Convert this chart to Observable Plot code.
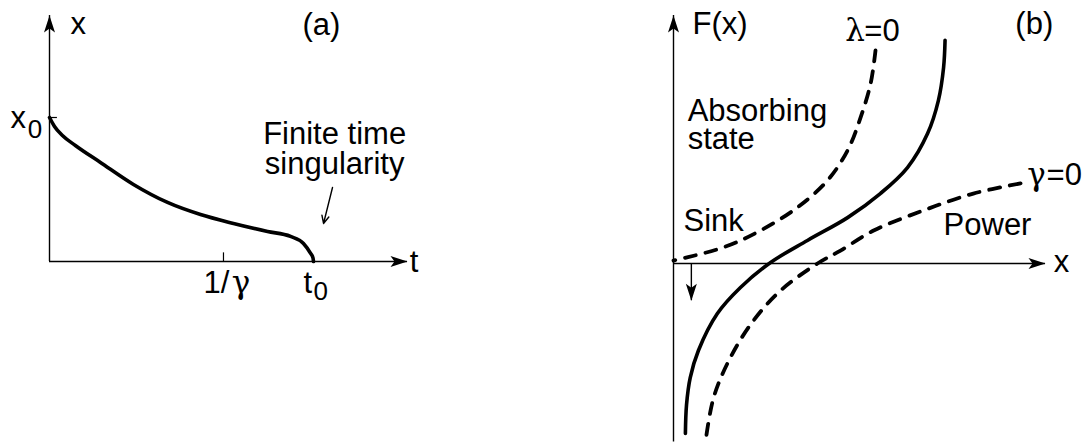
<!DOCTYPE html>
<html>
<head>
<meta charset="utf-8">
<script src="https://cdn.jsdelivr.net/npm/d3@7"></script>
<script src="https://cdn.jsdelivr.net/npm/@observablehq/plot@0.6"></script>
<style>
  html, body { margin: 0; padding: 0; background: #fff; }
  #wrap { position: relative; width: 1090px; height: 445px; overflow: hidden; }
  #wrap > svg { position: absolute; top: 0; }
</style>
</head>
<body>
<div id="wrap"></div>
<script>
// ---------- Panel (a): x(t) ----------
const curveA_t = [0, 0.019, 0.049, 0.098, 0.193, 0.318, 0.447, 0.572, 0.697, 0.826, 0.913, 0.962, 0.989, 0.998, 1];
const curveA_x = [1, 0.9375, 0.875, 0.806, 0.688, 0.535, 0.41, 0.326, 0.264, 0.208, 0.174, 0.125, 0.056, 0.025, 0];
const axisA_tMax = 1.356;   // end of t axis
const axisA_xMax = 1.708;   // end of x axis
const tickA_t = [0.659];    // 1/gamma
const labelsA = ["x", "(a)", "x", "0", "Finite time\nsingularity", "1/", "γ", "t", "0", "t"];
const labelsA_t = [0.08, 0.958, -0.148, -0.082, 1.08, 0.583, 0.69, 0.962, 1.0, 1.365];
const labelsA_x = [1.58, 1.57, 0.93, 0.86, 0.61, -0.222, -0.222, -0.222, -0.27, -0.076];
const labelsA_kind = ["m", "m", "m", "s", "c", "m", "g", "m", "s", "m"]; // main / sub / centred / greek
const pointerA = {t1: 1.072, x1: 0.514, t2: 1.038, x2: 0.264};

// ---------- Panel (b): F(x) ----------
const solidB_x = [0.73, 0.726, 0.712, 0.683, 0.629, 0.556, 0.468, 0.36, 0.261, 0.18, 0.118, 0.067, 0.045, 0.035, 0.032];
const solidB_F = [0.9, 0.79, 0.657, 0.524, 0.387, 0.282, 0.185, 0.093, 0.004, -0.097, -0.202, -0.351, -0.46, -0.57, -0.685];
const lambdaB_x = [0.543, 0.53, 0.503, 0.468, 0.414, 0.333, 0.234, 0.134, 0];
const lambdaB_F = [0.859, 0.726, 0.589, 0.456, 0.335, 0.226, 0.133, 0.065, 0.012];
const gammaB_x = [0.933, 0.806, 0.672, 0.538, 0.449, 0.387, 0.288, 0.215, 0.153, 0.108, 0.086];
const gammaB_F = [0.323, 0.282, 0.214, 0.133, 0.052, 0, -0.109, -0.23, -0.379, -0.54, -0.72];
const axisB_xMax = 1.0, axisB_Fmin = -0.72, axisB_Fmax = 1.0;
const sinkArrowB = {x: 0.048, F1: 0, F2: -0.15};
const labelsB = ["F(x)", "(b)", "λ", "=0", "Absorbing\nstate", "Sink", "Power", "γ", "=0", "x"];
const labelsB_x = [0.051, 0.919, 0.462, 0.513, 0.038, 0.027, 0.726, 0.951, 1.003, 1.022];
const labelsB_F = [0.927, 0.927, 0.899, 0.899, 0.46, 0.133, 0.113, 0.315, 0.315, -0.036];
const labelsB_kind = ["m", "m", "g", "m", "m", "m", "m", "g", "m", "m"];

// arrowhead symbols (tip at the point)
const headUp = {draw(c) { c.moveTo(0, 0); c.lineTo(-5.5, 17); c.lineTo(0, 13); c.lineTo(5.5, 17); c.closePath(); }};
const headRight = {draw(c) { c.moveTo(0, 0); c.lineTo(-17, -5.5); c.lineTo(-13, 0); c.lineTo(-17, 5.5); c.closePath(); }};
const headDown = {draw(c) { c.moveTo(0, 0); c.lineTo(-5.5, -17); c.lineTo(0, -13); c.lineTo(5.5, -17); c.closePath(); }};

const FONT = "'Liberation Sans', Arial, Helvetica, sans-serif";
const GREEK = "'DejaVu Serif', serif";
const SIZE = 31, SUB = 26;

const idx = (arr) => arr.map((_, i) => i);
const pick = (kinds, k) => idx(kinds).filter(i => kinds[i] === k);

function textMarks(labels, xs, ys, kinds, lineHeight) {
  const common = {x: i => xs[i], y: i => ys[i], text: i => labels[i], lineAnchor: "bottom", lineHeight, fill: "black"};
  return [
    Plot.text(pick(kinds, "m"), {...common, textAnchor: "start", fontSize: SIZE}),
    Plot.text(pick(kinds, "c"), {...common, textAnchor: "middle", fontSize: SIZE}),
    Plot.text(pick(kinds, "s"), {...common, textAnchor: "start", fontSize: SUB}),
    Plot.text(pick(kinds, "g"), {...common, textAnchor: "start", fontSize: SIZE, fontFamily: GREEK})
  ];
}

// ---- Plot (a)
const plotA = Plot.plot({
  width: 545, height: 445, margin: 0,
  x: {domain: [0, 1], range: [49, 313], axis: null},
  y: {domain: [0, 1], range: [261, 117], axis: null},
  style: {fontFamily: FONT, background: "white", overflow: "visible"},
  marks: [
    Plot.ruleX([0], {y1: 0, y2: axisA_xMax, stroke: "black", strokeWidth: 1.4}),
    Plot.ruleY([0], {x1: 0, x2: axisA_tMax, stroke: "black", strokeWidth: 1.4}),
    Plot.dot([0], {x: 0, y: axisA_xMax, symbol: headUp, fill: "black", stroke: "none"}),
    Plot.dot([0], {x: axisA_tMax, y: 0, symbol: headRight, fill: "black", stroke: "none"}),
    Plot.ruleX(tickA_t, {y1: 0, y2: 0.06, stroke: "black", strokeWidth: 1.2}),
    Plot.ruleY([1], {x1: 0, x2: 0.03, stroke: "black", strokeWidth: 1.2}),
    Plot.line(idx(curveA_t), {x: i => curveA_t[i], y: i => curveA_x[i], curve: "monotone-x", stroke: "black", strokeWidth: 3.6}),
    Plot.arrow([pointerA], {x1: "t1", y1: "x1", x2: "t2", y2: "x2", stroke: "black", strokeWidth: 1.4, headLength: 9, headAngle: 50}),
    ...textMarks(labelsA, labelsA_t, labelsA_x, labelsA_kind, 0.97)
  ]
});
plotA.style.left = "0px";

// ---- Plot (b)
const plotB = Plot.plot({
  width: 545, height: 445, margin: 0,
  x: {domain: [0, 1], range: [128, 500], axis: null},
  y: {domain: [0, 1], range: [263, 15], axis: null},
  style: {fontFamily: FONT, background: "white", overflow: "visible"},
  marks: [
    Plot.ruleX([0], {y1: axisB_Fmin, y2: axisB_Fmax, stroke: "black", strokeWidth: 1.4}),
    Plot.ruleY([0], {x1: 0, x2: axisB_xMax, stroke: "black", strokeWidth: 1.4}),
    Plot.dot([0], {x: 0, y: axisB_Fmax, symbol: headUp, fill: "black", stroke: "none"}),
    Plot.dot([0], {x: axisB_xMax, y: 0, symbol: headRight, fill: "black", stroke: "none"}),
    Plot.ruleX([sinkArrowB.x], {y1: sinkArrowB.F1, y2: sinkArrowB.F2, stroke: "black", strokeWidth: 1.4}),
    Plot.dot([0], {x: sinkArrowB.x, y: sinkArrowB.F2, symbol: headDown, fill: "black", stroke: "none"}),
    Plot.line(idx(lambdaB_x), {x: i => lambdaB_x[i], y: i => lambdaB_F[i], curve: "catmull-rom", stroke: "black", strokeWidth: 3.8, strokeDasharray: "11,10"}),
    Plot.line(idx(gammaB_x), {x: i => gammaB_x[i], y: i => gammaB_F[i], curve: "catmull-rom", stroke: "black", strokeWidth: 3.8, strokeDasharray: "11,10"}),
    Plot.line(idx(solidB_x), {x: i => solidB_x[i], y: i => solidB_F[i], curve: "catmull-rom", stroke: "black", strokeWidth: 3.6}),
    ...textMarks(labelsB, labelsB_x, labelsB_F, labelsB_kind, 0.91)
  ]
});
plotB.style.left = "545px";

document.getElementById("wrap").append(plotA, plotB);
</script>
</body>
</html>
